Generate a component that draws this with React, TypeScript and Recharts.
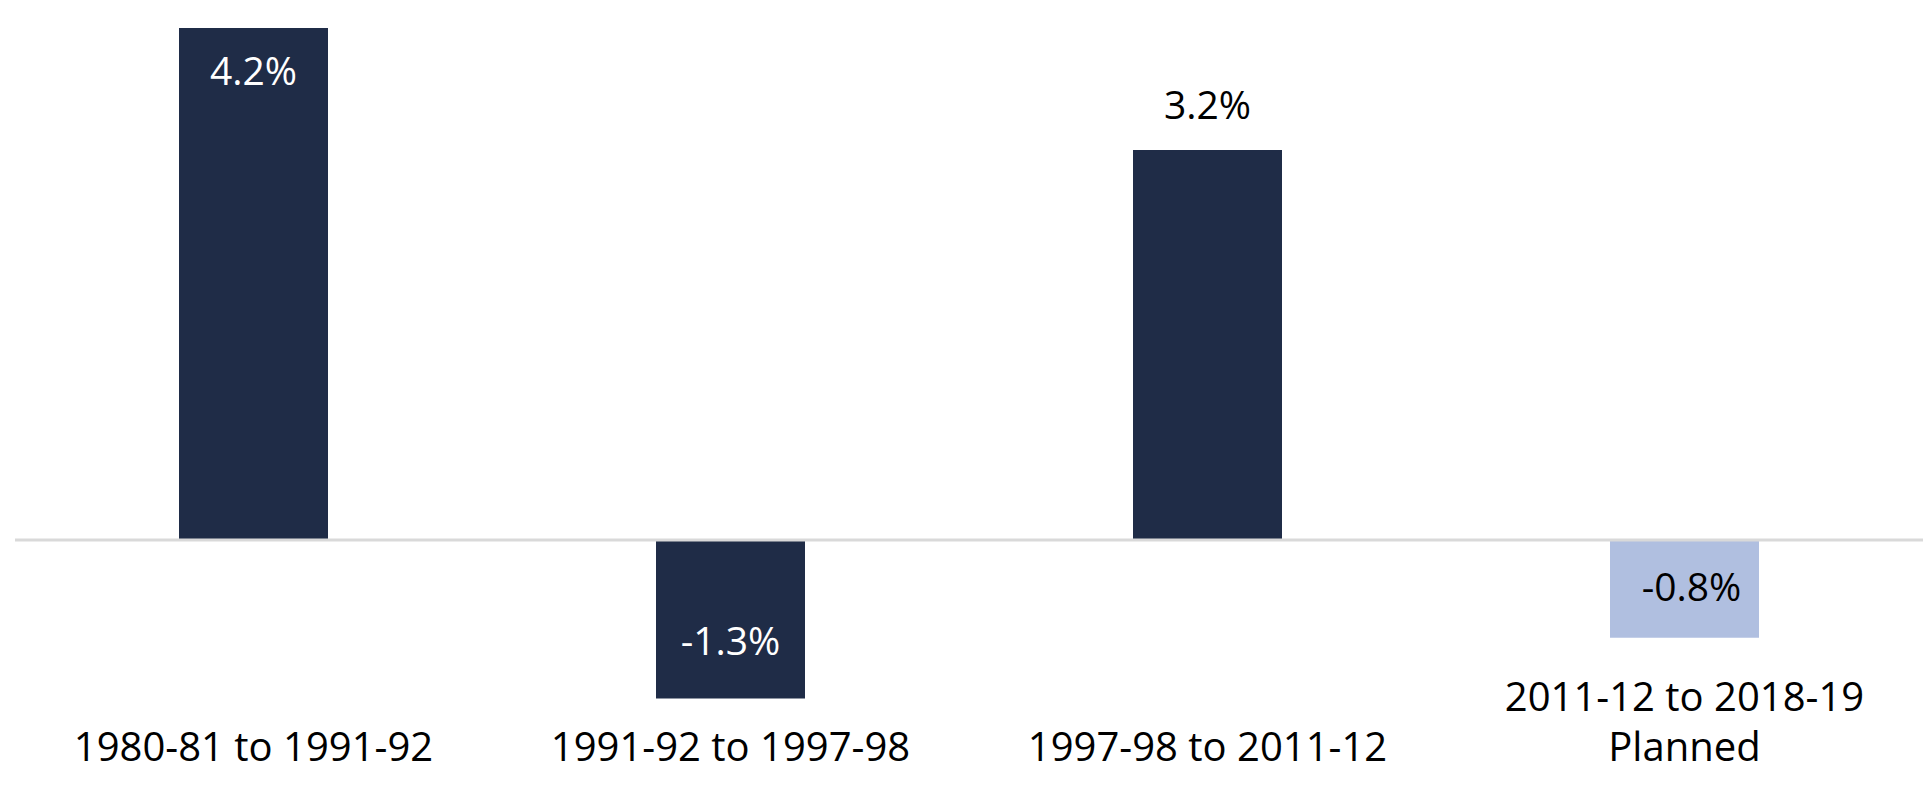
import { BarChart, Bar, XAxis, YAxis, Cell, LabelList, ReferenceLine } from "recharts";

document.body.style.margin = "0";

const periods = [
  "1980-81 to 1991-92",
  "1991-92 to 1997-98",
  "1997-98 to 2011-12",
  "2011-12 to 2018-19\nPlanned",
];
const growth = [4.2, -1.3, 3.2, -0.8];
const valueLabels = ["4.2%", "-1.3%", "3.2%", "-0.8%"];

const data = periods.map((period, i) => ({ period, growth: growth[i], label: valueLabels[i] }));

const font = "Open Sans, Noto Sans, sans-serif";
const navy = "#1f2c47";
const barColors = [navy, navy, navy, "#b0bfe0"];
// where each value label sits relative to its bar
const labelPlace = ["insideTop", "insideBottom", "top", "insideTop"];

function PeriodTick({ x, y, payload }: any) {
  const lines = String(payload.value).split("\n");
  const base = y + 38;
  return (
    <g>
      {lines.map((line, i) => (
        <text
          key={i}
          x={x}
          y={base - (lines.length - 1 - i) * 50}
          textAnchor="middle"
          fontFamily={font}
          fontSize={40}
          fill="#000"
        >
          {line}
        </text>
      ))}
    </g>
  );
}

function ValueLabel(props: any) {
  const { x, y, width, height, index, value } = props;
  const top = Math.min(y, y + height);
  const bottom = Math.max(y, y + height);
  const place = labelPlace[index];
  let cy = top + 43;
  let dx = 0;
  let fill = "#fff";
  if (place === "insideBottom") cy = bottom - 58;
  if (place === "top") {
    cy = top - 45;
    fill = "#000";
  }
  if (index === 3) {
    cy = top + 47;
    dx = 7;
    fill = "#000";
  }
  return (
    <text
      x={x + width / 2 + dx}
      y={cy + 14}
      textAnchor="middle"
      fontFamily={font}
      fontSize={39}
      fill={fill}
    >
      {value}
    </text>
  );
}

export default function App() {
  return (
    <div style={{ width: 1932, height: 796, background: "#fff" }}>
      <BarChart
        width={1932}
        height={796}
        data={data}
        margin={{ top: 28, right: 9, left: 15, bottom: 0 }}
        barCategoryGap={164}
      >
        <XAxis
          dataKey="period"
          axisLine={false}
          tickLine={false}
          tickSize={0}
          tickMargin={0}
          height={73}
          interval={0}
          tick={<PeriodTick />}
        />
        <YAxis hide domain={[-1.5, 4.2]} />
        <Bar dataKey="growth" isAnimationActive={false}>
          {data.map((d, i) => (
            <Cell key={d.period} fill={barColors[i]} />
          ))}
          <LabelList dataKey="label" content={<ValueLabel />} />
        </Bar>
        <ReferenceLine y={0} stroke="#d9d9d9" strokeWidth={3} />
      </BarChart>
    </div>
  );
}
